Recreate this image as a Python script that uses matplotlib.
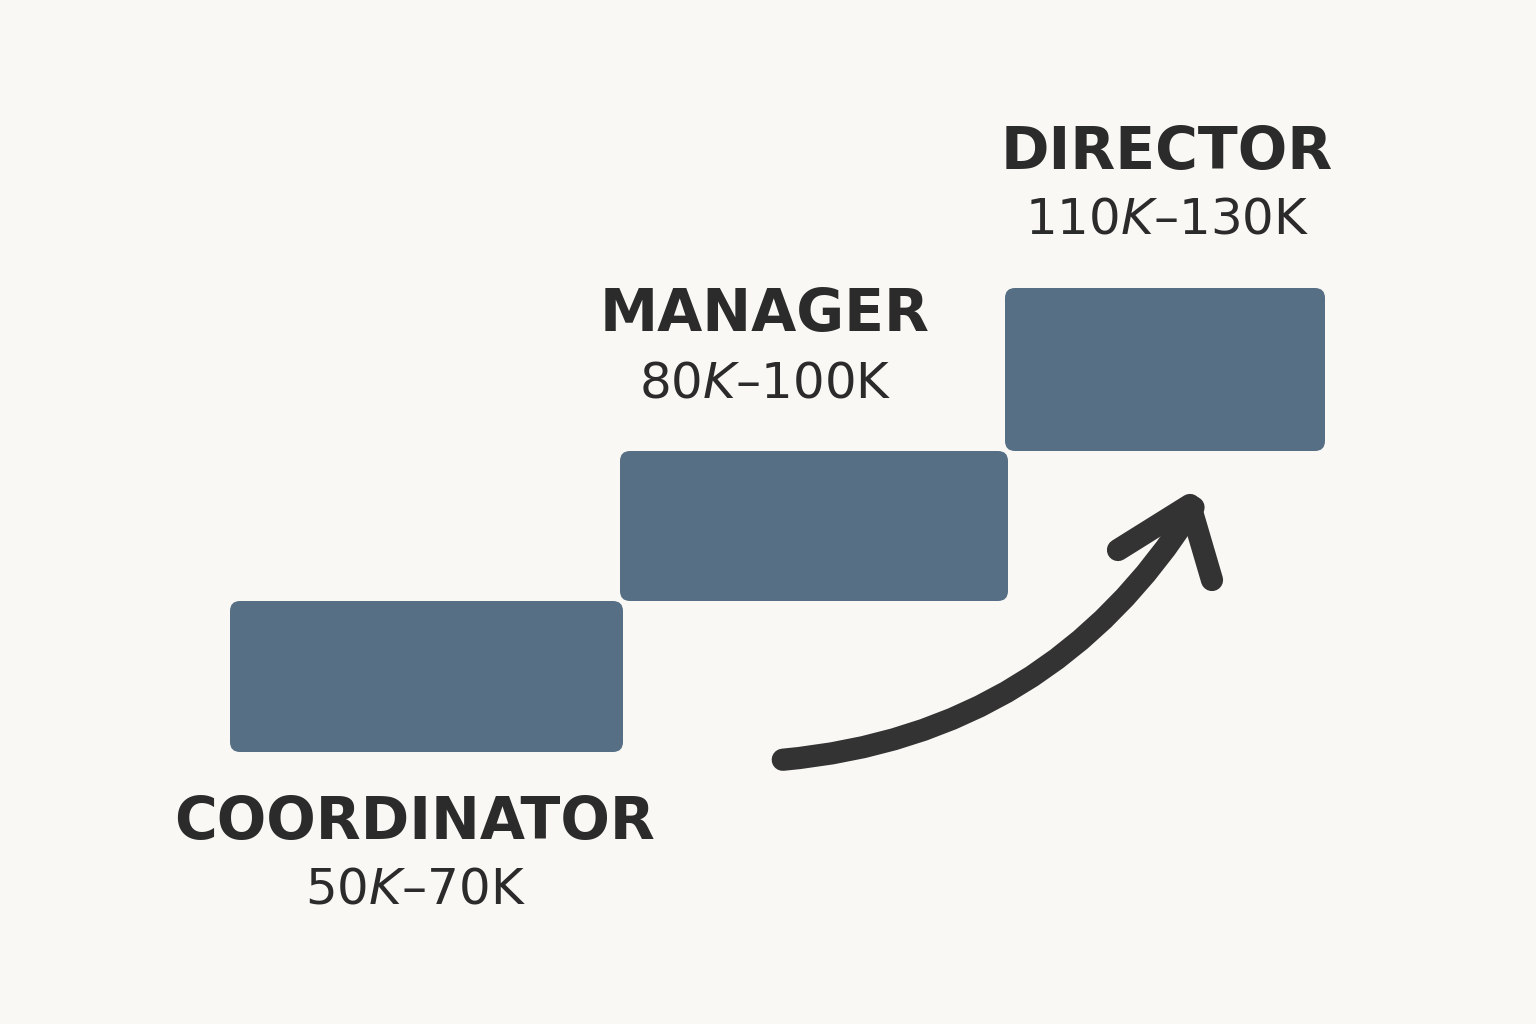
import matplotlib
matplotlib.use("Agg")
import matplotlib.pyplot as plt
from matplotlib.patches import FancyArrowPatch, FancyBboxPatch

roles = ["COORDINATOR", "MANAGER", "DIRECTOR"]
salaries = ["$50K–$70K", "$80K–$100K", "$110K–$130K"]

bg = "#FAF8F5"
bar_c = "#566F84"
txt_c = "#2B2B2B"

fig = plt.figure(figsize=(15.36, 10.24), dpi=100, facecolor=bg)
ax = fig.add_axes([0, 0, 1, 1])
ax.set_facecolor(bg)
ax.set_xlim(0, 1536)
ax.set_ylim(1024, 0)
ax.axis("off")

lefts = [230, 620, 1005]
widths = [393, 388, 320]
tops = [601, 451, 288]
heights = [151, 150, 163]
for l, w, t, h in zip(lefts, widths, tops, heights):
    ax.add_patch(FancyBboxPatch((l, t), w, h, boxstyle="round,pad=0,rounding_size=10",
                                fc=bar_c, ec="none"))

# labels
label_pos = [(415, 823, 890), (765, 315, 383), (1167, 152, 220)]
for (x, y1, y2), r, s in zip(label_pos, roles, salaries):
    ax.text(x, y1, r, ha="center", va="center", fontsize=42, fontweight="bold",
            color=txt_c, family="DejaVu Sans")
    ax.text(x, y2, s, ha="center", va="center", fontsize=36, color=txt_c,
            family="DejaVu Sans")

arrow = FancyArrowPatch((780, 760), (1195, 505),
                        connectionstyle="arc3,rad=0.25",
                        arrowstyle="-|>,head_length=0,head_width=0",
                        lw=16, color="#333333", capstyle="round", joinstyle="round")
arrow = FancyArrowPatch((780, 760), (1195, 505),
                        connectionstyle="arc3,rad=0.25",
                        arrowstyle="-", lw=16, color="#333333", capstyle="round")
ax.add_patch(arrow)
ax.plot([1118, 1190, 1212], [550, 505, 580], color="#333333", lw=16,
        solid_capstyle="round", solid_joinstyle="round")

fig.savefig("out.png", dpi=100, facecolor=bg)
